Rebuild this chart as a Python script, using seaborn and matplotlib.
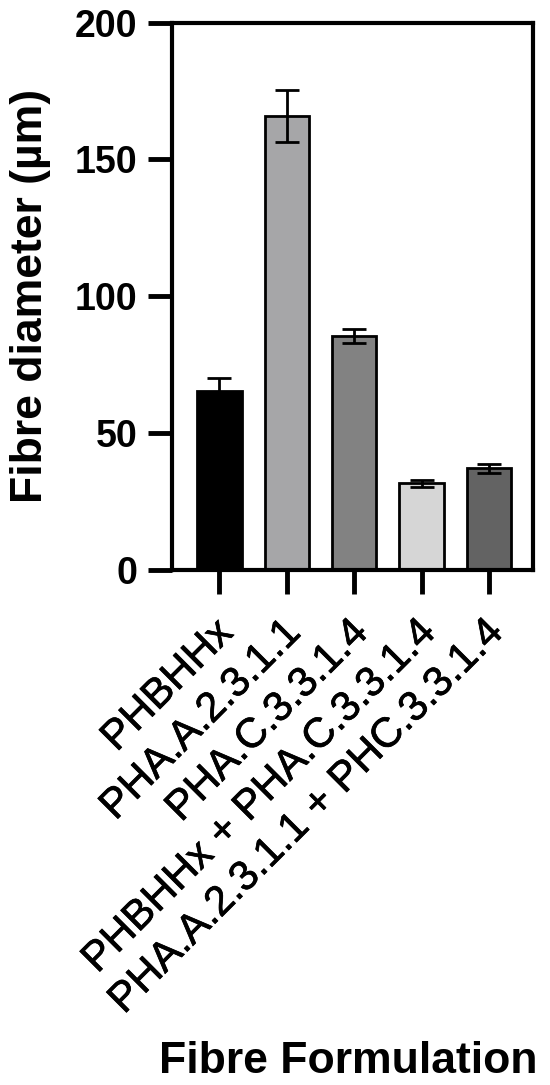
import matplotlib
matplotlib.use("Agg")
import matplotlib.pyplot as plt
import matplotlib.transforms as mtransforms
import matplotlib.patheffects as pe
import seaborn as sns
import pandas as pd

# data
formulations = ["PHBHHx", "PHA.A.2.3.1.1", "PHA.C.3.3.1.4",
                "PHBHHx + PHA.C.3.3.1.4", "PHA.A.2.3.1.1 + PHC.3.3.1.4"]
diameter_mean = [65.5, 166.0, 85.5, 31.5, 37.0]
diameter_err = [4.5, 9.5, 2.5, 1.2, 1.5]
bar_colors = ["#000000", "#a6a6a8", "#828282", "#d6d6d6", "#636363"]
y_ticks = [0, 50, 100, 150, 200]

sns.set_theme(style="white")
plt.rcParams["font.family"] = ["Liberation Sans", "DejaVu Sans"]
plt.rcParams["text.color"] = "black"
plt.rcParams["axes.labelcolor"] = "black"
plt.rcParams["xtick.color"] = "black"
plt.rcParams["ytick.color"] = "black"

df = pd.DataFrame({"Formulation": formulations, "Diameter": diameter_mean})

fig = plt.figure(figsize=(5.5, 10.85), dpi=100)
ax = fig.add_axes([0.313, 0.475, 0.656, 0.504])

sns.barplot(data=df, x="Formulation", y="Diameter", hue="Formulation",
            palette=bar_colors, legend=False, width=0.66,
            edgecolor="black", linewidth=2, ax=ax)
ax.errorbar(range(len(formulations)), diameter_mean, yerr=diameter_err,
            fmt="none", ecolor="black", elinewidth=2, capsize=8.5,
            capthick=2, zorder=5)

ax.set_ylim(0, 200)
ax.set_xlim(-0.7, 4.65)
ax.set_yticks(y_ticks)
ax.set_yticklabels([str(t) for t in y_ticks], fontsize=27, fontweight="bold")
ax.set_xticks(range(len(formulations)))
ax.set_xticklabels(formulations, rotation=45, ha="right",
                   rotation_mode="anchor", fontsize=30)
ax.tick_params(axis="both", direction="out", length=17, width=3.5,
               bottom=True, left=True)
ax.tick_params(axis="y", pad=8)
ax.tick_params(axis="x", pad=12)

# slightly heavier strokes on the slanted labels, nudged a little left/down
shift = mtransforms.ScaledTranslation(-7 / 100, -3 / 100, fig.dpi_scale_trans)
for lab in ax.get_xticklabels():
    lab.set_path_effects([pe.withStroke(linewidth=0.5, foreground="black")])
    lab.set_transform(lab.get_transform() + shift)

for s in ax.spines.values():
    s.set_linewidth(3)
    s.set_color("black")

ax.set_xlabel("")
ax.set_ylabel("Fibre diameter (µm)", fontsize=32, fontweight="bold")
ax.yaxis.set_label_coords(-0.335, 0.5)
fig.text(0.978, 0.011, "Fibre Formulation", ha="right", va="baseline",
         fontsize=32, fontweight="bold")

fig.savefig("out.png", dpi=100)
